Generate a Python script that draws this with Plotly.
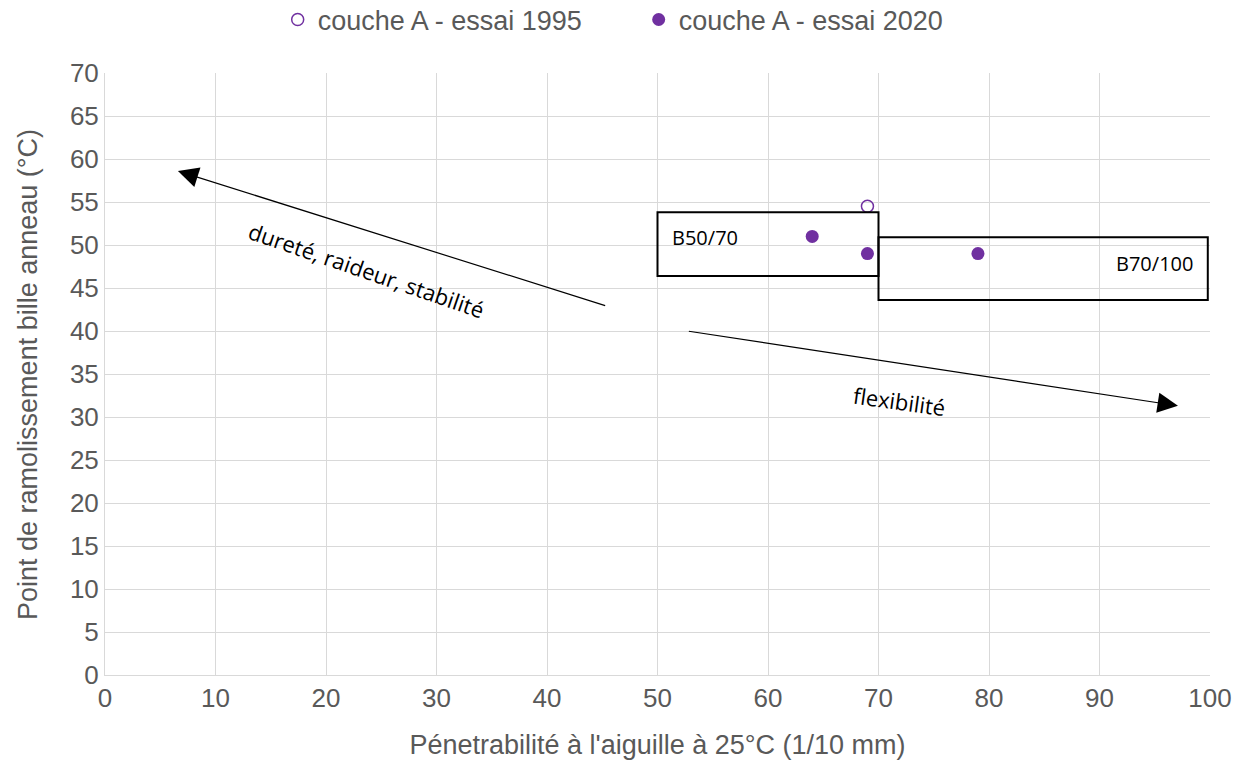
import plotly.graph_objects as go

# Data
x_1995 = [69]
y_1995 = [54.5]
x_2020 = [64, 69, 79]
y_2020 = [51, 49, 49]

# Class boxes (x0, x1, y0, y1) and labels
box_names = ["B50/70", "B70/100"]
box_x0 = [50, 70]
box_x1 = [70, 99.8]
box_y0 = [46.4, 43.6]
box_y1 = [53.8, 50.9]
box_label_x = [54.3, 95.0]
box_label_y = [50.9, 47.9]

# Arrows: tail -> head
arrow_labels = ["dureté, raideur, stabilité", "flexibilité"]
arrow_tail_x = [45.4, 52.7]
arrow_tail_y = [42.9, 40.0]
arrow_head_x = [6.6, 97.1]
arrow_head_y = [58.6, 31.3]
arrow_label_x = [23.7, 71.9]
arrow_label_y = [47.1, 31.9]
arrow_label_angle = [19, 8]

x_title = "Pénetrabilité à l'aiguille à 25°C (1/10 mm)"
y_title = "Point de ramolissement bille anneau (°C)"

purple = "#7030A0"
axis_col = "#595959"
grid_col = "#D9D9D9"

fig = go.Figure()
fig.add_trace(go.Scatter(
    x=x_1995, y=y_1995, mode="markers", name="couche A - essai 1995",
    marker=dict(symbol="circle-open", size=12, color=purple, line=dict(width=1.5, color=purple)),
))
fig.add_trace(go.Scatter(
    x=x_2020, y=y_2020, mode="markers", name="couche A - essai 2020",
    marker=dict(symbol="circle", size=13, color=purple),
))

for i in range(len(box_names)):
    fig.add_shape(type="rect", xref="x", yref="y",
                  x0=box_x0[i], x1=box_x1[i], y0=box_y0[i], y1=box_y1[i],
                  line=dict(color="black", width=2), fillcolor="rgba(0,0,0,0)")
    fig.add_annotation(x=box_label_x[i], y=box_label_y[i], text=box_names[i],
                       showarrow=False, font=dict(family="Open Sans", size=20, color="black"))

for i in range(len(arrow_labels)):
    fig.add_annotation(x=arrow_head_x[i], y=arrow_head_y[i],
                       ax=arrow_tail_x[i], ay=arrow_tail_y[i],
                       xref="x", yref="y", axref="x", ayref="y",
                       text="", showarrow=True, arrowhead=2, arrowsize=3.4,
                       arrowwidth=1.2, arrowcolor="black")
    fig.add_annotation(x=arrow_label_x[i], y=arrow_label_y[i], text=arrow_labels[i],
                       showarrow=False, textangle=arrow_label_angle[i],
                       font=dict(family="Open Sans", size=22, color="black"))

# y axis title placed as rotated text left of the tick labels
fig.add_annotation(xref="paper", yref="paper", x=-0.0697, y=0.5, text=y_title,
                   showarrow=False, textangle=-90, xanchor="center", yanchor="middle",
                   font=dict(size=27, color=axis_col))

fig.update_layout(
    width=1245, height=767,
    margin=dict(l=105, r=35, t=73, b=92),
    plot_bgcolor="white", paper_bgcolor="white",
    font=dict(family="Liberation Sans, Arial", size=26, color=axis_col),
    legend=dict(orientation="h", xref="container", yref="container",
                x=0.513, xanchor="center", y=0.974, yanchor="middle",
                font=dict(size=27, color=axis_col), itemwidth=30,
                entrywidth=316, entrywidthmode="pixels"),
    xaxis=dict(range=[0, 100], dtick=10, showgrid=True, gridcolor=grid_col, gridwidth=1,
               zeroline=False, showline=True, linecolor=grid_col, mirror=False,
               ticks="", tickfont=dict(size=26, color=axis_col),
               title=dict(text=x_title, font=dict(size=27, color=axis_col), standoff=22)),
    yaxis=dict(range=[0, 70], dtick=5, showgrid=True, gridcolor=grid_col, gridwidth=1,
               zeroline=False, showline=True, linecolor=grid_col,
               ticks="", tickfont=dict(size=26, color=axis_col)),
)

fig.write_html("out.html")
